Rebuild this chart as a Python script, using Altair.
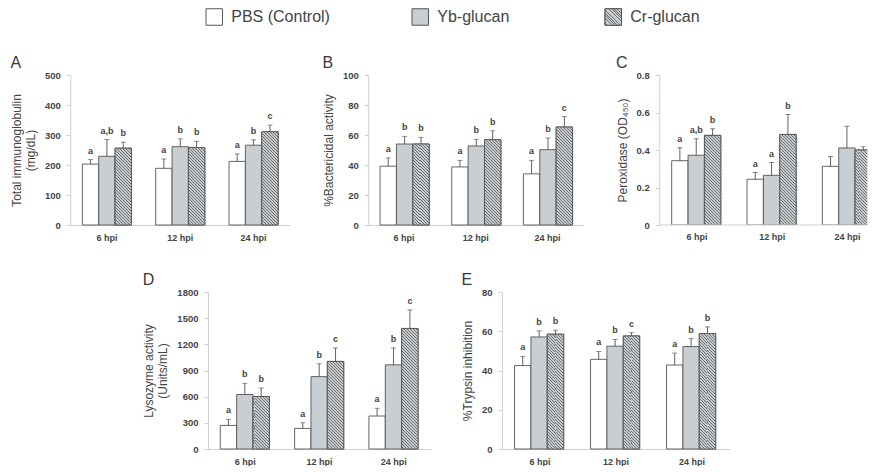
import altair as alt
import pandas as pd

times = ["6 hpi", "12 hpi", "24 hpi"]
groups = ["PBS (Control)", "Yb-glucan", "Cr-glucan"]

# A - total immunoglobulin (mg/dL)
ig_mean = {"PBS (Control)": [203, 189, 212], "Yb-glucan": [229, 261, 266], "Cr-glucan": [256, 258, 311]}
ig_sd = {"PBS (Control)": [15, 31, 25], "Yb-glucan": [56, 26, 18], "Cr-glucan": [20, 21, 22]}
ig_sig = {"PBS (Control)": ["a", "a", "a"], "Yb-glucan": ["a,b", "b", "b"], "Cr-glucan": ["b", "b", "c"]}

# B - % bactericidal activity
bact_mean = {"PBS (Control)": [39.2, 38.7, 34.1], "Yb-glucan": [54.0, 52.7, 50.2], "Cr-glucan": [54.0, 56.9, 65.3]}
bact_sd = {"PBS (Control)": [5.5, 4.4, 9.0], "Yb-glucan": [5.1, 4.4, 7.8], "Cr-glucan": [4.4, 5.9, 7.0]}
bact_sig = {"PBS (Control)": ["a", "a", "a"], "Yb-glucan": ["b", "b", "b"], "Cr-glucan": ["b", "b", "c"]}

# C - peroxidase (OD450)
perox_mean = {"PBS (Control)": [0.343, 0.244, 0.313], "Yb-glucan": [0.372, 0.265, 0.411], "Cr-glucan": [0.478, 0.483, 0.400]}
perox_sd = {"PBS (Control)": [0.069, 0.036, 0.052], "Yb-glucan": [0.088, 0.068, 0.116], "Cr-glucan": [0.035, 0.106, 0.018]}
perox_sig = {"PBS (Control)": ["a", "a", ""], "Yb-glucan": ["a,b", "a", ""], "Cr-glucan": ["b", "b", ""]}

# D - lysozyme activity (Units/mL)
lys_mean = {"PBS (Control)": [270, 236, 378], "Yb-glucan": [625, 830, 965], "Cr-glucan": [602, 1004, 1382]}
lys_sd = {"PBS (Control)": [70, 65, 89], "Yb-glucan": [128, 147, 193], "Cr-glucan": [97, 154, 213]}
lys_sig = {"PBS (Control)": ["a", "a", "a"], "Yb-glucan": ["b", "b", "b"], "Cr-glucan": ["b", "c", "c"]}

# E - % trypsin inhibition
tryp_mean = {"PBS (Control)": [42.5, 45.7, 42.8], "Yb-glucan": [57.1, 52.4, 52.2], "Cr-glucan": [58.5, 57.6, 58.8]}
tryp_sd = {"PBS (Control)": [4.7, 4.0, 6.1], "Yb-glucan": [3.1, 3.4, 4.1], "Cr-glucan": [2.0, 1.7, 3.4]}
tryp_sig = {"PBS (Control)": ["a", "a", "a"], "Yb-glucan": ["b", "b", "b"], "Cr-glucan": ["b", "c", "b"]}

FONT = "Liberation Sans"
INK = "#505050"
TEXT = "#444444"
AXIS_LINE = "#cfcfcf"
BAR_EDGE = "#555555"
FILLS = ["#ffffff", "#c8ced2", "#c2c6c9"]
HATCH_BG = "#c9cdcf"
HATCH_FG = "#6a6d70"
PAD_IN = 0.33
PAD_OUT = 0.165


def hatch_fill(w, h, pitch=3.0, line=1.0):
    """Linear gradient with hard stops that reads as '\\' hatching on a w x h box."""
    norm = w / (w * w + h * h)
    end = min(1.0, (w + h) * norm)
    stops = []
    t = 0.0
    while t < end:
        a = min(t + (pitch - line) * norm, 1.0)
        b = min(t + pitch * norm, 1.0)
        stops += [
            {"offset": round(t, 5), "color": HATCH_BG},
            {"offset": round(a, 5), "color": HATCH_BG},
            {"offset": round(a, 5), "color": HATCH_FG},
            {"offset": round(b, 5), "color": HATCH_FG},
        ]
        t += pitch * norm
    return {"gradient": "linear", "x1": 0, "y1": 1, "x2": 1, "y2": 1 - h / w, "stops": stops}


def table(mean, sd, sig):
    rows = []
    for g in groups:
        for i, t in enumerate(times):
            rows.append({"time": t, "group": g, "mean": mean[g][i],
                         "upper": mean[g][i] + sd[g][i], "sig": sig[g][i]})
    return pd.DataFrame(rows)


def panel(letter, ytitle, ymax, yticks, mean, sd, sig, width, height, band_span=None):
    df = table(mean, sd, sig)
    clip = band_span is not None
    span = band_span if clip else width
    scale_kw = {"range": [0, span]} if clip else {}
    x_axis = None if clip else alt.Axis(
        title=None, labelAngle=0, ticks=False, domainColor=AXIS_LINE, labelFont=FONT,
        labelFontSize=9, labelFontWeight="bold", labelColor=TEXT, labelPadding=8)
    x = alt.X("time:N",
              scale=alt.Scale(domain=times, paddingInner=PAD_IN, paddingOuter=PAD_OUT, **scale_kw),
              axis=x_axis)
    xo = alt.XOffset("group:N", scale=alt.Scale(domain=groups, paddingInner=0, paddingOuter=0))
    y_scale = alt.Scale(domain=[0, ymax], nice=False)
    y_axis = alt.Axis(title=ytitle, values=yticks, format=".6~g", grid=False,
                      domainColor=AXIS_LINE, tickColor=AXIS_LINE, tickSize=4,
                      labelFont=FONT, labelFontSize=9.5, labelFontWeight="bold",
                      labelColor=TEXT, labelPadding=6, titleFont=FONT,
                      titleFontSize=12, titleFontWeight="normal", titleColor=TEXT,
                      titlePadding=7)

    def y(field):
        return alt.Y(f"{field}:Q", scale=y_scale, axis=y_axis)

    base = alt.Chart(df)
    layers = [
        base.mark_bar(stroke=BAR_EDGE, strokeWidth=0.9, clip=clip).encode(
            x=x, xOffset=xo, y=y("mean"),
            fill=alt.Fill("group:N", scale=alt.Scale(domain=groups, range=FILLS), legend=None))
    ]
    bar_w = span / (3 - PAD_IN + 2 * PAD_OUT) * (1 - PAD_IN) / 3
    for i, t in enumerate(times):
        h = mean["Cr-glucan"][i] / ymax * height
        layers.append(
            base.transform_filter((alt.datum.group == "Cr-glucan") & (alt.datum.time == t))
            .mark_bar(stroke=BAR_EDGE, strokeWidth=0.9, clip=clip)
            .encode(x=x, xOffset=xo, y=y("mean"), fill=alt.value(hatch_fill(bar_w, h)))
        )
    layers.append(base.mark_rule(color=INK, strokeWidth=0.9, clip=clip).encode(
        x=x, xOffset=xo, y=y("mean"), y2="upper:Q"))
    layers.append(base.mark_tick(color=INK, thickness=0.9, size=5, clip=clip).encode(
        x=x, xOffset=xo, y=y("upper")))
    layers.append(base.mark_text(font=FONT, fontSize=9, fontWeight="bold", color=TEXT,
                                 baseline="bottom", dy=-4).encode(
        x=x, xOffset=xo, y=y("upper"), text="sig:N"))
    if clip:
        # the last time point runs past the panel edge, so the category labels
        # and the baseline are drawn as marks inside the clipped view
        tl = pd.DataFrame({"time": times, "base": [0, 0, 0]})
        layers.append(alt.Chart(tl).mark_text(
            font=FONT, fontSize=9, fontWeight="bold", color=TEXT, baseline="top", dy=8).encode(
            x=x, y=y("base"), text="time:N"))
        layers.append(alt.Chart(tl.head(1)).mark_rule(color=AXIS_LINE).encode(
            x=alt.value(0), x2=alt.value(width), y=y("base")))
    return alt.layer(*layers).properties(
        width=width, height=height,
        title=alt.TitleParams(letter, anchor="start", frame="bounds", font=FONT, fontSize=16,
                              fontWeight="normal", color="#3a3a3a", offset=-1))


# legend row: one slot per treatment, placed on a piecewise-linear slot scale
LEG_RANGE = [144, 350, 543]
legend_df = pd.DataFrame({"group": groups, "slot": [0, 1, 2]})
lx = alt.X("slot:Q", axis=None, scale=alt.Scale(domain=[0, 1, 2], range=LEG_RANGE))
leg_boxes = alt.Chart(legend_df).mark_square(size=272, stroke=BAR_EDGE, strokeWidth=1, opacity=1).encode(
    x=lx, y=alt.value(8),
    fill=alt.Fill("group:N", scale=alt.Scale(domain=groups, range=FILLS), legend=None))
leg_hatch = alt.Chart(legend_df).transform_filter(alt.datum.group == "Cr-glucan").mark_square(
    size=272, stroke=BAR_EDGE, strokeWidth=1, opacity=1).encode(
    x=lx, y=alt.value(8), fill=alt.value(hatch_fill(16.5, 16.5, pitch=2.6, line=0.9)))
leg_names = alt.Chart(legend_df).mark_text(align="left", dx=17, font=FONT, fontSize=16, color=TEXT).encode(
    x=lx, y=alt.value(8), text="group:N")
legend = alt.layer(leg_boxes, leg_hatch, leg_names).properties(width=700, height=16)

pA = panel("A", ["Total immunoglobulin", "(mg/dL)"], 500, [0, 100, 200, 300, 400, 500],
           ig_mean, ig_sd, ig_sig, 220, 150)
pB = panel("B", "%Bactericidal activity", 100, [0, 20, 40, 60, 80, 100],
           bact_mean, bact_sd, bact_sig, 215, 150)
pC = panel("C", "Peroxidase (OD\u2084\u2085\u2080)", 0.8, [0, 0.2, 0.4, 0.6, 0.8],
           perox_mean, perox_sd, perox_sig, 208, 150, band_span=226)
pD = panel("D", ["Lysozyme activity", "(Units/mL)"], 1800, [0, 300, 600, 900, 1200, 1500, 1800],
           lys_mean, lys_sd, lys_sig, 223, 157)
pE = panel("E", "%Trypsin inhibition", 80, [0, 20, 40, 60, 80],
           tryp_mean, tryp_sd, tryp_sig, 228, 157)

row1 = alt.hconcat(pA, pB, pC, spacing=32)
row2 = alt.hconcat(pD, pE, spacing=30)
top = alt.vconcat(legend, row1, spacing=27, center=False)

chart = (
    alt.vconcat(top, row2, spacing=30, center=True)
    .properties(padding={"left": 10, "top": 6, "right": 0, "bottom": 0})
    .configure(font=FONT)
    .configure_view(stroke=None)
)

chart.save("out.html", embed_options={"renderer": "svg", "actions": False})
